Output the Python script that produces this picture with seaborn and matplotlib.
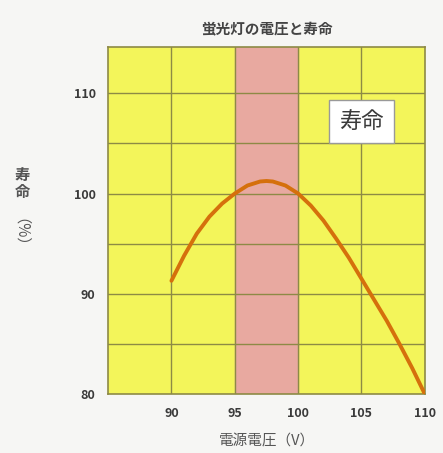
import numpy as np
import pandas as pd
import matplotlib
matplotlib.use('Agg')
import matplotlib.pyplot as plt
import seaborn as sns

# 電源電圧 (V) と 寿命 (%)
voltage = [90, 91, 92, 93, 94, 95, 96, 97, 97.5, 98, 99, 100,
           101, 102, 103, 104, 105, 106, 107, 108, 109, 110]
life = [91.3, 93.8, 96.0, 97.7, 99.0, 100.0, 100.8, 101.2, 101.25, 101.2, 100.8, 100.0,
        98.8, 97.3, 95.5, 93.6, 91.5, 89.4, 87.3, 85.0, 82.6, 80.0]
band = [95, 100]
xticks = [90, 95, 100, 105, 110]
yticks = [80, 90, 100, 110]

df = pd.DataFrame({'voltage': voltage, 'life': life})

sns.set_style('white')
plt.rcParams['font.family'] = ['Noto Sans CJK JP', 'DejaVu Sans']

fig = plt.figure(figsize=(4.43, 4.53), dpi=100)
fig.patch.set_facecolor('#f6f6f4')
ax = fig.add_axes([0.244, 0.130, 0.715, 0.766])
ax.set_facecolor('#f3f55a')

ax.axvspan(band[0], band[1], color='#e8a9a0', zorder=0)

for x in [90, 95, 100, 105]:
    ax.axvline(x, color='#8d8a45', lw=1.0, zorder=1)
for y in [85, 90, 95, 100, 105, 110]:
    ax.axhline(y, color='#8d8a45', lw=1.0, zorder=1)

sns.lineplot(data=df, x='voltage', y='life', color='#d5700c', lw=2.8, ax=ax, zorder=3)

ax.set_xlim(85, 110)
ax.set_ylim(80, 114.6)
ax.set_xticks(xticks)
ax.set_yticks(yticks)
ax.tick_params(length=0, labelsize=9, colors='#3a3a3a', pad=9)
for lab in ax.get_xticklabels() + ax.get_yticklabels():
    lab.set_fontweight('bold')
for s in ax.spines.values():
    s.set_color('#8d8a45')
    s.set_linewidth(1.2)

ax.set_xlabel('電源電圧（V）', fontsize=10.5, color='#555555', labelpad=11)
ax.set_ylabel('')
ax.set_title('蛍光灯の電圧と寿命', fontsize=10.5, color='#444444', pad=9, fontweight='bold')

ax.text(105, 107.2, '寿命', fontsize=16, color='#3a3a3a', ha='center', va='center', zorder=4,
        bbox=dict(boxstyle='square,pad=0.45', fc='white', ec='#999999', lw=1))

fig.text(0.05, 0.595, '寿\n命', fontsize=11, color='#555555', ha='center', va='center',
         linespacing=1.05, fontweight='bold')
fig.text(0.027, 0.47, '（%）', fontsize=11, color='#555555', ha='center', va='center',
         rotation=-90)

fig.savefig('out.png', dpi=100, facecolor=fig.get_facecolor())
